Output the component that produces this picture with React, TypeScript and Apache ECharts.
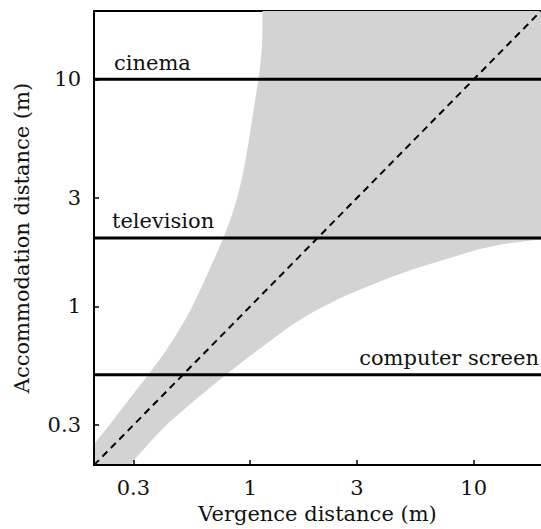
import React, { useEffect, useRef } from "react";
import * as echarts from "echarts";

// Axis ticks (log scale, metres)
const xTickValues = [0.3, 1, 3, 10];
const yTickValues = [0.3, 1, 3, 10];
const axisMin = 0.2;
const axisMax = 20;

// Zone of comfort: near boundary (vergence, accommodation)
const nearVergence = [0.2, 0.24, 0.29, 0.36, 0.42, 0.5, 0.577, 0.66, 0.769, 0.86, 0.93, 0.99, 1.048, 1.1, 1.134, 1.148];
const nearAccommodation = [0.247, 0.31, 0.395, 0.52, 0.64, 0.84, 1.1, 1.47, 2.08, 2.85, 3.9, 5.5, 7.9, 10.8, 15, 20];

// Zone of comfort: far boundary
const farVergence = [0.29, 0.4, 0.564, 0.78, 1.1, 1.66, 2.4, 2.94, 4.88, 8.09, 12.1, 18.2, 20];
const farAccommodation = [0.2, 0.285, 0.385, 0.5, 0.65, 0.87, 1.06, 1.16, 1.41, 1.65, 1.84, 1.95, 1.96];

// Display types and their distances (m)
const screenNames = ["cinema", "television", "computer screen"];
const screenDistances = [10, 2, 0.5];

const FONT = "DejaVu Serif";
const ZONE = "#d3d3d3";

export default function App() {
  const ref = useRef<HTMLDivElement>(null);

  useEffect(() => {
    if (!ref.current) return;
    const chart = echarts.init(ref.current, null, { renderer: "svg" });

    const nearData = nearVergence.map((v, i) => [v, nearAccommodation[i]]);
    const farData = farVergence.map((v, i) => [v, farAccommodation[i]]);
    const topData = [
      [nearVergence[nearVergence.length - 2], axisMax],
      [axisMax, axisMax],
    ];

    const fmt = (vals: number[]) => (v: number) => {
      let best = vals[0];
      vals.forEach((t) => {
        if (Math.abs(Math.log(t) - Math.log(v)) < Math.abs(Math.log(best) - Math.log(v))) best = t;
      });
      return String(best);
    };

    const areaSeries = (data: number[][], color: string, smooth: number | boolean) => ({
      type: "line",
      data,
      smooth,
      showSymbol: false,
      symbol: "none",
      silent: true,
      z: 2,
      lineStyle: { width: 0, color },
      areaStyle: { color, opacity: 1, origin: "start" },
    });

    const lineSeries = screenDistances.map((d, i) => ({
      type: "line",
      name: screenNames[i],
      data: [
        [axisMin, d],
        [axisMax, d],
      ],
      showSymbol: false,
      symbol: "none",
      silent: true,
      z: 3,
      lineStyle: { color: "#000", width: 3 },
    }));

    const labelFont = `21px "${FONT}"`;

    chart.setOption({
      animation: false,
      grid: {
        left: 94,
        right: -8,
        top: 11,
        bottom: 62,
        show: true,
        borderColor: "#000",
        borderWidth: 2,
        containLabel: false,
      },
      xAxis: {
        type: "log",
        logBase: 10,
        min: axisMin,
        max: axisMax,
        z: 5,
        name: "Vergence distance (m)",
        nameLocation: "middle",
        nameGap: 36,
        nameTextStyle: { fontFamily: FONT, fontSize: 21, color: "#111" },
        axisLine: { show: true, lineStyle: { color: "#000", width: 2 } },
        axisTick: { show: true, inside: true, length: 5, customValues: xTickValues, lineStyle: { color: "#000", width: 1.5 } },
        axisLabel: { customValues: xTickValues, formatter: fmt(xTickValues), margin: 12, fontFamily: FONT, fontSize: 21, color: "#111" },
        splitLine: { show: false },
        minorTick: { show: false },
      },
      yAxis: {
        type: "log",
        logBase: 10,
        min: axisMin,
        max: axisMax,
        z: 5,
        name: "Accommodation distance (m)",
        nameLocation: "middle",
        nameGap: 62,
        nameTextStyle: { fontFamily: FONT, fontSize: 21, color: "#111" },
        axisLine: { show: true, lineStyle: { color: "#000", width: 2 } },
        axisTick: { show: true, inside: true, length: 5, customValues: yTickValues, lineStyle: { color: "#000", width: 1.5 } },
        axisLabel: { customValues: yTickValues, formatter: fmt(yTickValues), margin: 13, fontFamily: FONT, fontSize: 21, color: "#111" },
        splitLine: { show: false },
        minorTick: { show: false },
      },
      series: [
        areaSeries(nearData, ZONE, 0.4),
        areaSeries(topData, ZONE, false),
        areaSeries(farData, "#ffffff", 0.4),
        {
          type: "line",
          data: [
            [axisMin, axisMin],
            [axisMax, axisMax],
          ],
          showSymbol: false,
          symbol: "none",
          silent: true,
          z: 3,
          lineStyle: { color: "#000", width: 2, type: [7, 5] },
        },
        ...lineSeries,
      ],
      graphic: [
        { type: "text", z: 100, left: 114, top: 52, style: { text: screenNames[0], font: labelFont, fill: "#111" } },
        { type: "text", z: 100, left: 112, top: 210, style: { text: screenNames[1], font: labelFont, fill: "#111" } },
        { type: "text", z: 100, right: 2, top: 347, style: { text: screenNames[2], font: labelFont, fill: "#111" } },
      ],
    });

    return () => chart.dispose();
  }, []);

  return <div ref={ref} style={{ width: 541, height: 529, position: "absolute", left: 0, top: 0 }} />;
}
